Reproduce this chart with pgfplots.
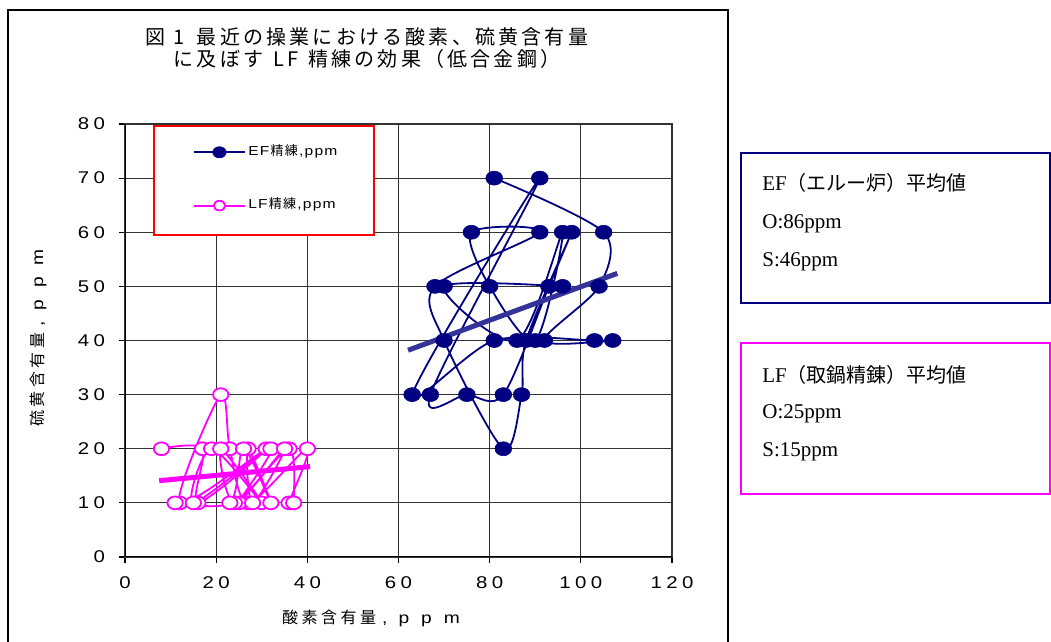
\documentclass[border=0pt]{standalone}
\usepackage{fontspec}
\usepackage{pgfplots}
\pgfplotsset{compat=1.18}
\setmainfont{Liberation Sans}
\newfontfamily\jp{Noto Sans CJK JP}
\newfontfamily\jpt[LetterSpace=16]{Noto Sans CJK JP}
\newfontfamily\jpl[LetterSpace=22]{Noto Sans CJK JP}
\newfontfamily\tk[FakeStretch=1.2]{Liberation Sans}
\newfontfamily\tms{Liberation Serif}
\definecolor{navyc}{HTML}{000080}
\definecolor{magc}{HTML}{FF00FF}
\definecolor{trendc}{HTML}{333399}
\newcommand\gq{\hspace{2.2pt}}
\newcommand\gp{\hspace{0.6pt}}
\begin{document}
\begin{tikzpicture}
\useasboundingbox (0,0) rectangle (525.5pt,321pt);
\fill[white] (0,0) rectangle (525.5pt,321pt);
\draw[black, line width=0.8pt] (4pt,-10pt) -- (4pt,316pt) -- (364pt,316pt) -- (364pt,-10pt);
\node[align=center, font=\jpt\fontsize{10}{11}\selectfont, inner sep=0pt] at (183.5pt,297pt)
  {図\hspace{4pt}1\hspace{6pt}最近の操業における酸素、硫黄含有量\\に及ぼす\hspace{5pt}LF\hspace{5pt}精練の効果（低合金鋼）};
\begin{axis}[
  at={(62.5pt,42.5pt)}, anchor=south west,
  scale only axis, width=273.5pt, height=216.5pt,
  xmin=0, xmax=120, ymin=0, ymax=80,
  xtick={0,20,...,120}, ytick={0,10,...,80},
  xticklabels={0,2\gq0,4\gq0,6\gq0,8\gq0,1\gq0\gq0,1\gq2\gq0},
  yticklabels={0,1\gq0,2\gq0,3\gq0,4\gq0,5\gq0,6\gq0,7\gq0,8\gq0},
  ticklabel style={font=\tk\fontsize{8.5}{9}\selectfont},
  xticklabel style={yshift=-3.5pt},
  yticklabel style={anchor=east, xshift=-3.5pt},
  grid=major, grid style={black!80, line width=0.5pt},
  axis line style={black!80, line width=0.6pt},
  tick pos=left,
  tick style={black, line width=0.6pt}, tick align=outside, major tick length=3pt,
  xlabel={{\jpl 酸素含有量}\hspace{3pt}{\tk ,\hspace{5.5pt}p\hspace{6pt}p\hspace{6pt}m}},
  ylabel={{\jpl 硫黄含有量}\hspace{3pt}{\tk ,\hspace{5.5pt}p\hspace{6pt}p\hspace{6pt}m}},
  label style={font=\fontsize{8}{9}\selectfont},
  xlabel style={at={(rel axis cs:0.4497,-0.141)}, anchor=center},
  ylabel style={at={(rel axis cs:-0.159,0.506)}, anchor=center},
  legend style={at={(axis cs:6.4,79.6)}, anchor=north west, draw=none, fill=none,
    inner xsep=19.5pt, inner ysep=9pt, row sep=20pt,
    nodes={inner sep=0pt, anchor=base west}, font=\fontsize{6.5}{7.5}\selectfont},
  legend cell align=left,
  legend image code/.code={\draw[mark repeat=2,mark phase=2,#1] plot coordinates {(0pt,0pt) (12.5pt,0pt) (25pt,0pt)};},
]
\addplot[navyc, line width=0.9pt, smooth, tension=0.5, mark=*, mark size=3.5pt,
  mark options={xscale=1.2, fill=navyc, draw=navyc, line width=0.3pt},
  legend image post style={mark size=2.8pt}]
coordinates {(81,70) (105,60) (104,50) (92,40) (107,40) (103,40) (81,40) (63,30) (91,70)
 (67,30) (75,30) (83,30) (93,50) (98,60) (88,40) (87,30) (83,20) (70,40) (68,50) (91,60)
 (76,60) (80,50) (90,40) (96,60) (86,40) (70,50) (96,50)};
\addlegendentry{\raisebox{-1.6pt}{\hspace{1.5pt}{\tk E\gp F\gp}{\jp 精\gp 練}\gp{\tk ,\gp p\gp p\gp m}}}
\addplot[magc, line width=0.9pt, smooth, tension=0.5, mark=*, mark size=3.2pt,
  mark options={xscale=1.2, fill=white, draw=magc, line width=0.9pt},
  legend image post style={mark size=2.4pt}]
coordinates {(8,20) (17,20) (16,10) (31,20) (12,10) (21,30) (23,20) (27,10) (40,20)
 (36,10) (37,10) (36,20) (25,10) (32,20) (15,10) (19,20) (30,10) (21,20) (24,10) (35,20)
 (28,10) (27,20) (32,10) (26,20) (23,10) (11,10)};
\addlegendentry{\raisebox{-1.6pt}{\hspace{1.5pt}{\tk L\gp F\gp}{\jp 精\gp 練}\gp{\tk ,\gp p\gp p\gp m}}}
\addplot[trendc, line width=2.5pt, forget plot] coordinates {(62.1,38.2) (108,52.4)};
\addplot[magc, line width=2.5pt, forget plot] coordinates {(7.5,14.1) (40.6,16.7)};
\draw[red, line width=1pt, fill=white] (axis cs:6.36,79.6) rectangle (axis cs:54.6,59.5);
\draw[black, line width=1pt] (rel axis cs:0,1) -- (rel axis cs:0,0) -- (rel axis cs:1,0);
\end{axis}
\draw[navyc, line width=0.8pt] (370.5pt,244.5pt) rectangle (525pt,169.5pt);
\draw[magc, line width=0.8pt] (370.5pt,149.5pt) rectangle (525pt,74pt);
\node[anchor=west, inner sep=0pt] at (381pt,229.5pt) {\tms\fontsize{10.5}{12}\selectfont EF{\jp\fontsize{10}{12}\selectfont （エルー炉）平均値}};
\node[anchor=west, inner sep=0pt] at (381pt,209pt) {\tms\fontsize{10.5}{12}\selectfont O:86ppm};
\node[anchor=west, inner sep=0pt] at (381pt,190pt) {\tms\fontsize{10.5}{12}\selectfont S:46ppm};
\node[anchor=west, inner sep=0pt] at (381pt,133.5pt) {\tms\fontsize{10.5}{12}\selectfont LF{\jp\fontsize{10}{12}\selectfont （取鍋精錬）平均値}};
\node[anchor=west, inner sep=0pt] at (381pt,114pt) {\tms\fontsize{10.5}{12}\selectfont O:25ppm};
\node[anchor=west, inner sep=0pt] at (381pt,95pt) {\tms\fontsize{10.5}{12}\selectfont S:15ppm};
\end{tikzpicture}
\end{document}
